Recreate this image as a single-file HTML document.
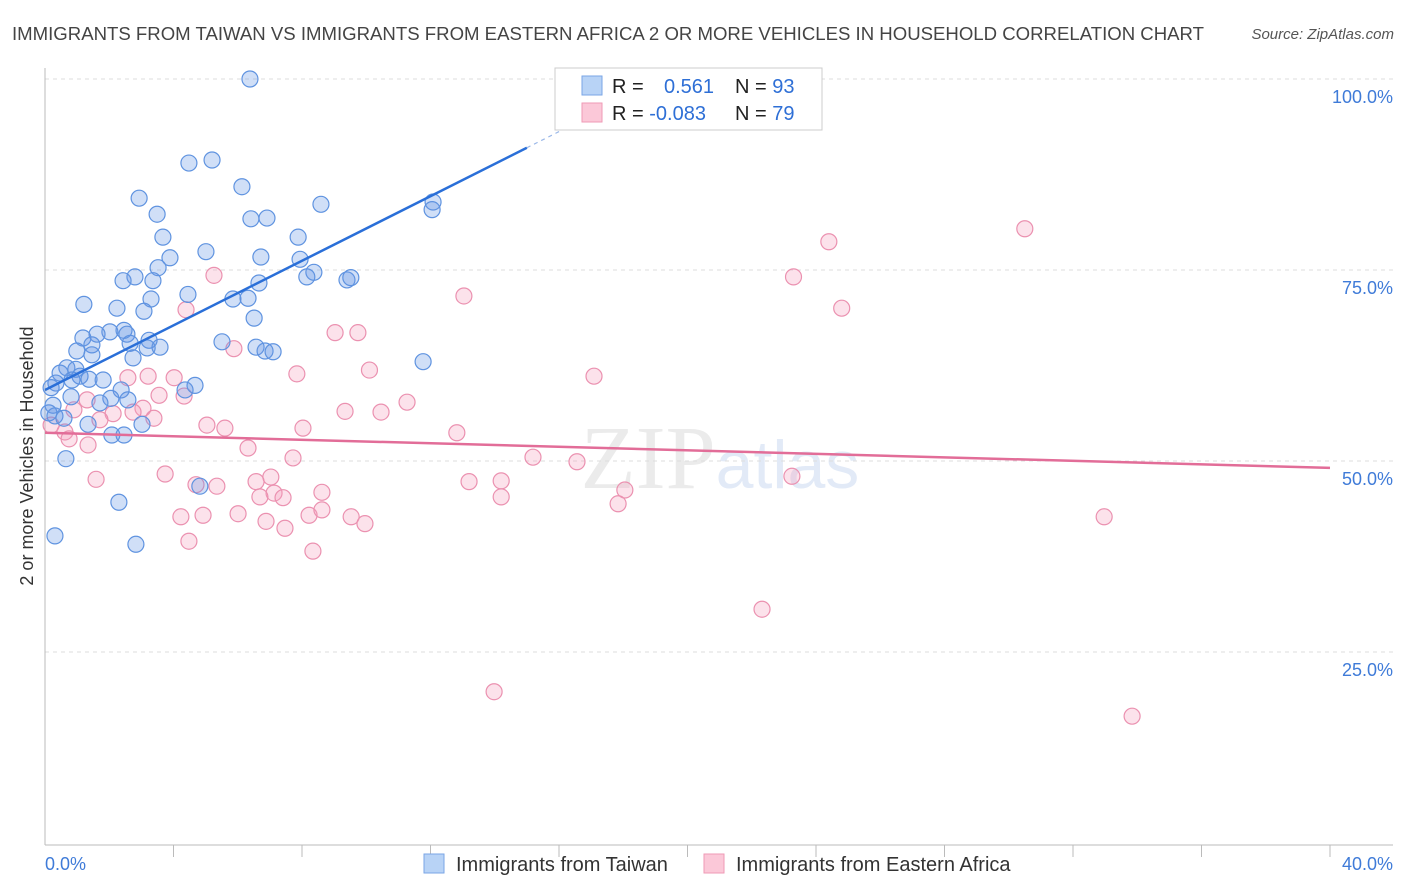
<!DOCTYPE html>
<html><head><meta charset="utf-8"><style>
body{margin:0;background:#fff;font-family:"Liberation Sans",sans-serif}
svg{display:block}
</style></head><body>
<svg id="chart" width="1406" height="892" xmlns="http://www.w3.org/2000/svg" font-family="Liberation Sans, sans-serif">
<text x="12" y="40" font-size="18.6" fill="#444" textLength="1192" lengthAdjust="spacingAndGlyphs">IMMIGRANTS FROM TAIWAN VS IMMIGRANTS FROM EASTERN AFRICA 2 OR MORE VEHICLES IN HOUSEHOLD CORRELATION CHART</text>
<text x="1394" y="39" font-size="15" font-style="italic" fill="#555" text-anchor="end">Source: ZipAtlas.com</text>
<text x="720" y="488" font-size="90" text-anchor="middle" fill="#ebebeb" font-family="Liberation Serif, serif">ZIP<tspan fill="#e2eaf7" font-family="Liberation Sans, sans-serif" font-size="68">atlas</tspan></text>
<g id="grid"></g>
<g id="axes"></g>
<g id="marks"></g>
<text transform="translate(33,456) rotate(-90)" font-size="18" fill="#333" text-anchor="middle">2 or more Vehicles in Household</text>
<g>
<rect x="555" y="68" width="267" height="62" fill="#fff" stroke="#ccc"/>
<rect x="582" y="76" width="20" height="19" fill="#b8d3f6" stroke="#7aa6e6"/>
<rect x="582" y="103" width="20" height="19" fill="#fbc8d8" stroke="#ef9ab6"/>
<text x="612" y="93" font-size="20" fill="#222">R = <tspan fill="#2e6fd6" x="664">0.561</tspan><tspan x="735" fill="#222">N = </tspan><tspan fill="#2e6fd6">93</tspan></text>
<text x="612" y="120" font-size="20" fill="#222">R = <tspan fill="#2e6fd6">-0.083</tspan><tspan x="735" fill="#222">N = </tspan><tspan fill="#2e6fd6">79</tspan></text>
</g>
<g>
<rect x="424" y="854" width="20" height="19" fill="#b8d3f6" stroke="#7aa6e6"/>
<text x="456" y="871" font-size="20" fill="#333">Immigrants from Taiwan</text>
<rect x="704" y="854" width="20" height="19" fill="#fbc8d8" stroke="#ef9ab6"/>
<text x="736" y="871" font-size="20" fill="#333">Immigrants from Eastern Africa</text>
</g>
</svg>
<script>
const xTicks=[0,5,10,15,20,25,30,35,40];
const yTicks=[25,50,75,100];
const taiwanX=[6.38,4.48,5.2,6.13,2.93,8.59,12.08,12.05,3.49,6.41,6.91,3.67,7.88,5.01,3.89,6.72,7.94,3.52,8.37,8.15,9.4,9.52,2.8,2.43,3.36,6.66,4.45,3.3,5.85,6.32,1.21,2.24,3.08,6.51,2.46,2.02,1.62,1.18,2.55,3.24,5.51,2.65,1.46,3.58,3.18,6.57,6.85,7.1,0.99,1.46,2.74,11.77,0.68,0.96,0.47,1.09,1.37,1.81,0.84,0.34,4.67,4.36,2.37,0.19,0.81,2.05,2.58,1.71,0.25,0.12,0.31,0.59,1.34,3.02,2.08,2.46,0.65,4.82,2.3,0.31,2.83];
const taiwanY=[100,89.0,89.4,85.9,84.4,83.6,83.9,82.9,82.3,81.7,81.8,79.3,79.3,77.4,76.6,76.7,76.4,75.3,74.7,74.1,73.7,74.0,74.1,73.6,73.6,73.3,71.8,71.2,71.2,71.3,70.5,70.0,69.6,68.7,67.1,66.9,66.6,66.1,66.6,65.8,65.6,65.4,65.2,64.9,64.8,64.9,64.4,64.3,64.4,63.9,63.5,63.0,62.2,62.0,61.5,61.1,60.7,60.6,60.6,60.2,59.9,59.3,59.3,59.6,58.4,58.2,58.0,57.6,57.3,56.3,55.9,55.6,54.8,54.8,53.4,53.4,50.3,46.7,44.6,40.2,39.1];
const africaX=[30.5,24.4,23.3,5.26,13.04,24.8,4.39,9.03,9.74,5.88,10.1,7.84,17.09,3.21,4.02,2.58,3.55,4.33,11.27,1.31,3.05,9.34,10.46,2.74,2.12,0.9,3.39,1.71,5.04,5.6,8.03,0.19,0.62,12.82,0.75,1.34,6.32,15.19,7.72,16.56,3.74,7.03,23.25,1.59,13.2,14.2,4.7,5.35,6.57,18.05,8.62,7.13,6.69,7.41,14.2,17.84,4.23,4.92,6.01,8.22,8.62,9.53,9.96,6.88,7.47,32.97,4.48,8.34,22.32,13.98,33.84];
const africaY=[80.4,78.7,74.1,74.3,71.6,70.0,69.8,66.8,66.8,64.7,61.9,61.4,61.1,61.1,60.9,60.9,58.6,58.5,57.7,58.0,56.9,56.5,56.4,56.4,56.2,56.7,55.6,55.4,54.7,54.3,54.3,54.7,53.8,53.7,52.9,52.1,51.7,50.5,50.4,49.9,48.3,47.9,48.0,47.6,47.3,47.4,46.9,46.7,47.3,46.2,45.9,45.8,45.3,45.2,45.3,44.4,42.7,42.9,43.1,42.9,43.6,42.7,41.8,42.1,41.2,42.7,39.5,38.2,30.6,19.8,16.6];
const taiwanTrend=[0,59.3,15,91];
const africaTrend=[0,53.7,40,49.1];
const NS='http://www.w3.org/2000/svg';
const sx=v=>45+v*32.125, sy=v=>843-v*7.64;
function mk(tag,attrs,parent){const e=document.createElementNS(NS,tag);for(const k in attrs)e.setAttribute(k,attrs[k]);document.getElementById(parent).appendChild(e);return e;}
yTicks.forEach(t=>{
 const g=mk('line',{x1:45,x2:1393,y1:sy(t),y2:sy(t),stroke:'#ddd','stroke-dasharray':'4,4'},'grid');
 
 
 const l=mk('text',{x:1393,y:sy(t)+24,'font-size':18,fill:'#3f7bd8','text-anchor':'end'},'axes');
 l.textContent=t.toFixed(1)+'%';
 
 
});
const ya=mk('line',{x1:45,x2:45,y1:68,y2:845,stroke:'#bbb'},'axes');


const xa=mk('line',{x1:45,x2:1393,y1:845,y2:845,stroke:'#bbb'},'axes');


for(let i=1;i<=10;i++){const t=mk('line',{x1:45+i*128.5,x2:45+i*128.5,y1:845,y2:857,stroke:'#bbb'},'axes');
 
 }
[[0,'start'],[40,'end']].forEach(([v,a])=>{const l=mk('text',{x:v?1393:45,y:870,'font-size':18,fill:'#3f7bd8','text-anchor':a},'axes');l.textContent=v.toFixed(1)+'%';
 
 });
function pts(X,Y,fill,stroke,name){X.forEach((x,i)=>{const c=mk('circle',{cx:sx(x),cy:sy(Y[i]),r:8,fill:fill,stroke:stroke,'stroke-width':1.2},'marks');
 
 });}
pts(africaX,africaY,'rgba(245,160,190,0.3)','#eb91b0','point-eastern-africa');
pts(taiwanX,taiwanY,'rgba(100,150,230,0.3)','#5f93e0','point-taiwan');
const tr=taiwanTrend, slope=(tr[3]-tr[1])/(tr[2]-tr[0]);
const bl=mk('line',{x1:sx(tr[0]),y1:sy(tr[1]),x2:sx(tr[2]),y2:sy(tr[3]),stroke:'#2a6fd8','stroke-width':2.5},'marks');


const bd=mk('line',{x1:sx(tr[2]),y1:sy(tr[3]),x2:sx(18),y2:sy(tr[1]+slope*18),stroke:'#9bb8e8','stroke-width':1.2,'stroke-dasharray':'4,4'},'marks');


const pl=mk('line',{x1:sx(africaTrend[0]),y1:sy(africaTrend[1]),x2:sx(africaTrend[2]),y2:sy(africaTrend[3]),stroke:'#e26d98','stroke-width':2.5},'marks');


</script>
</body></html>
